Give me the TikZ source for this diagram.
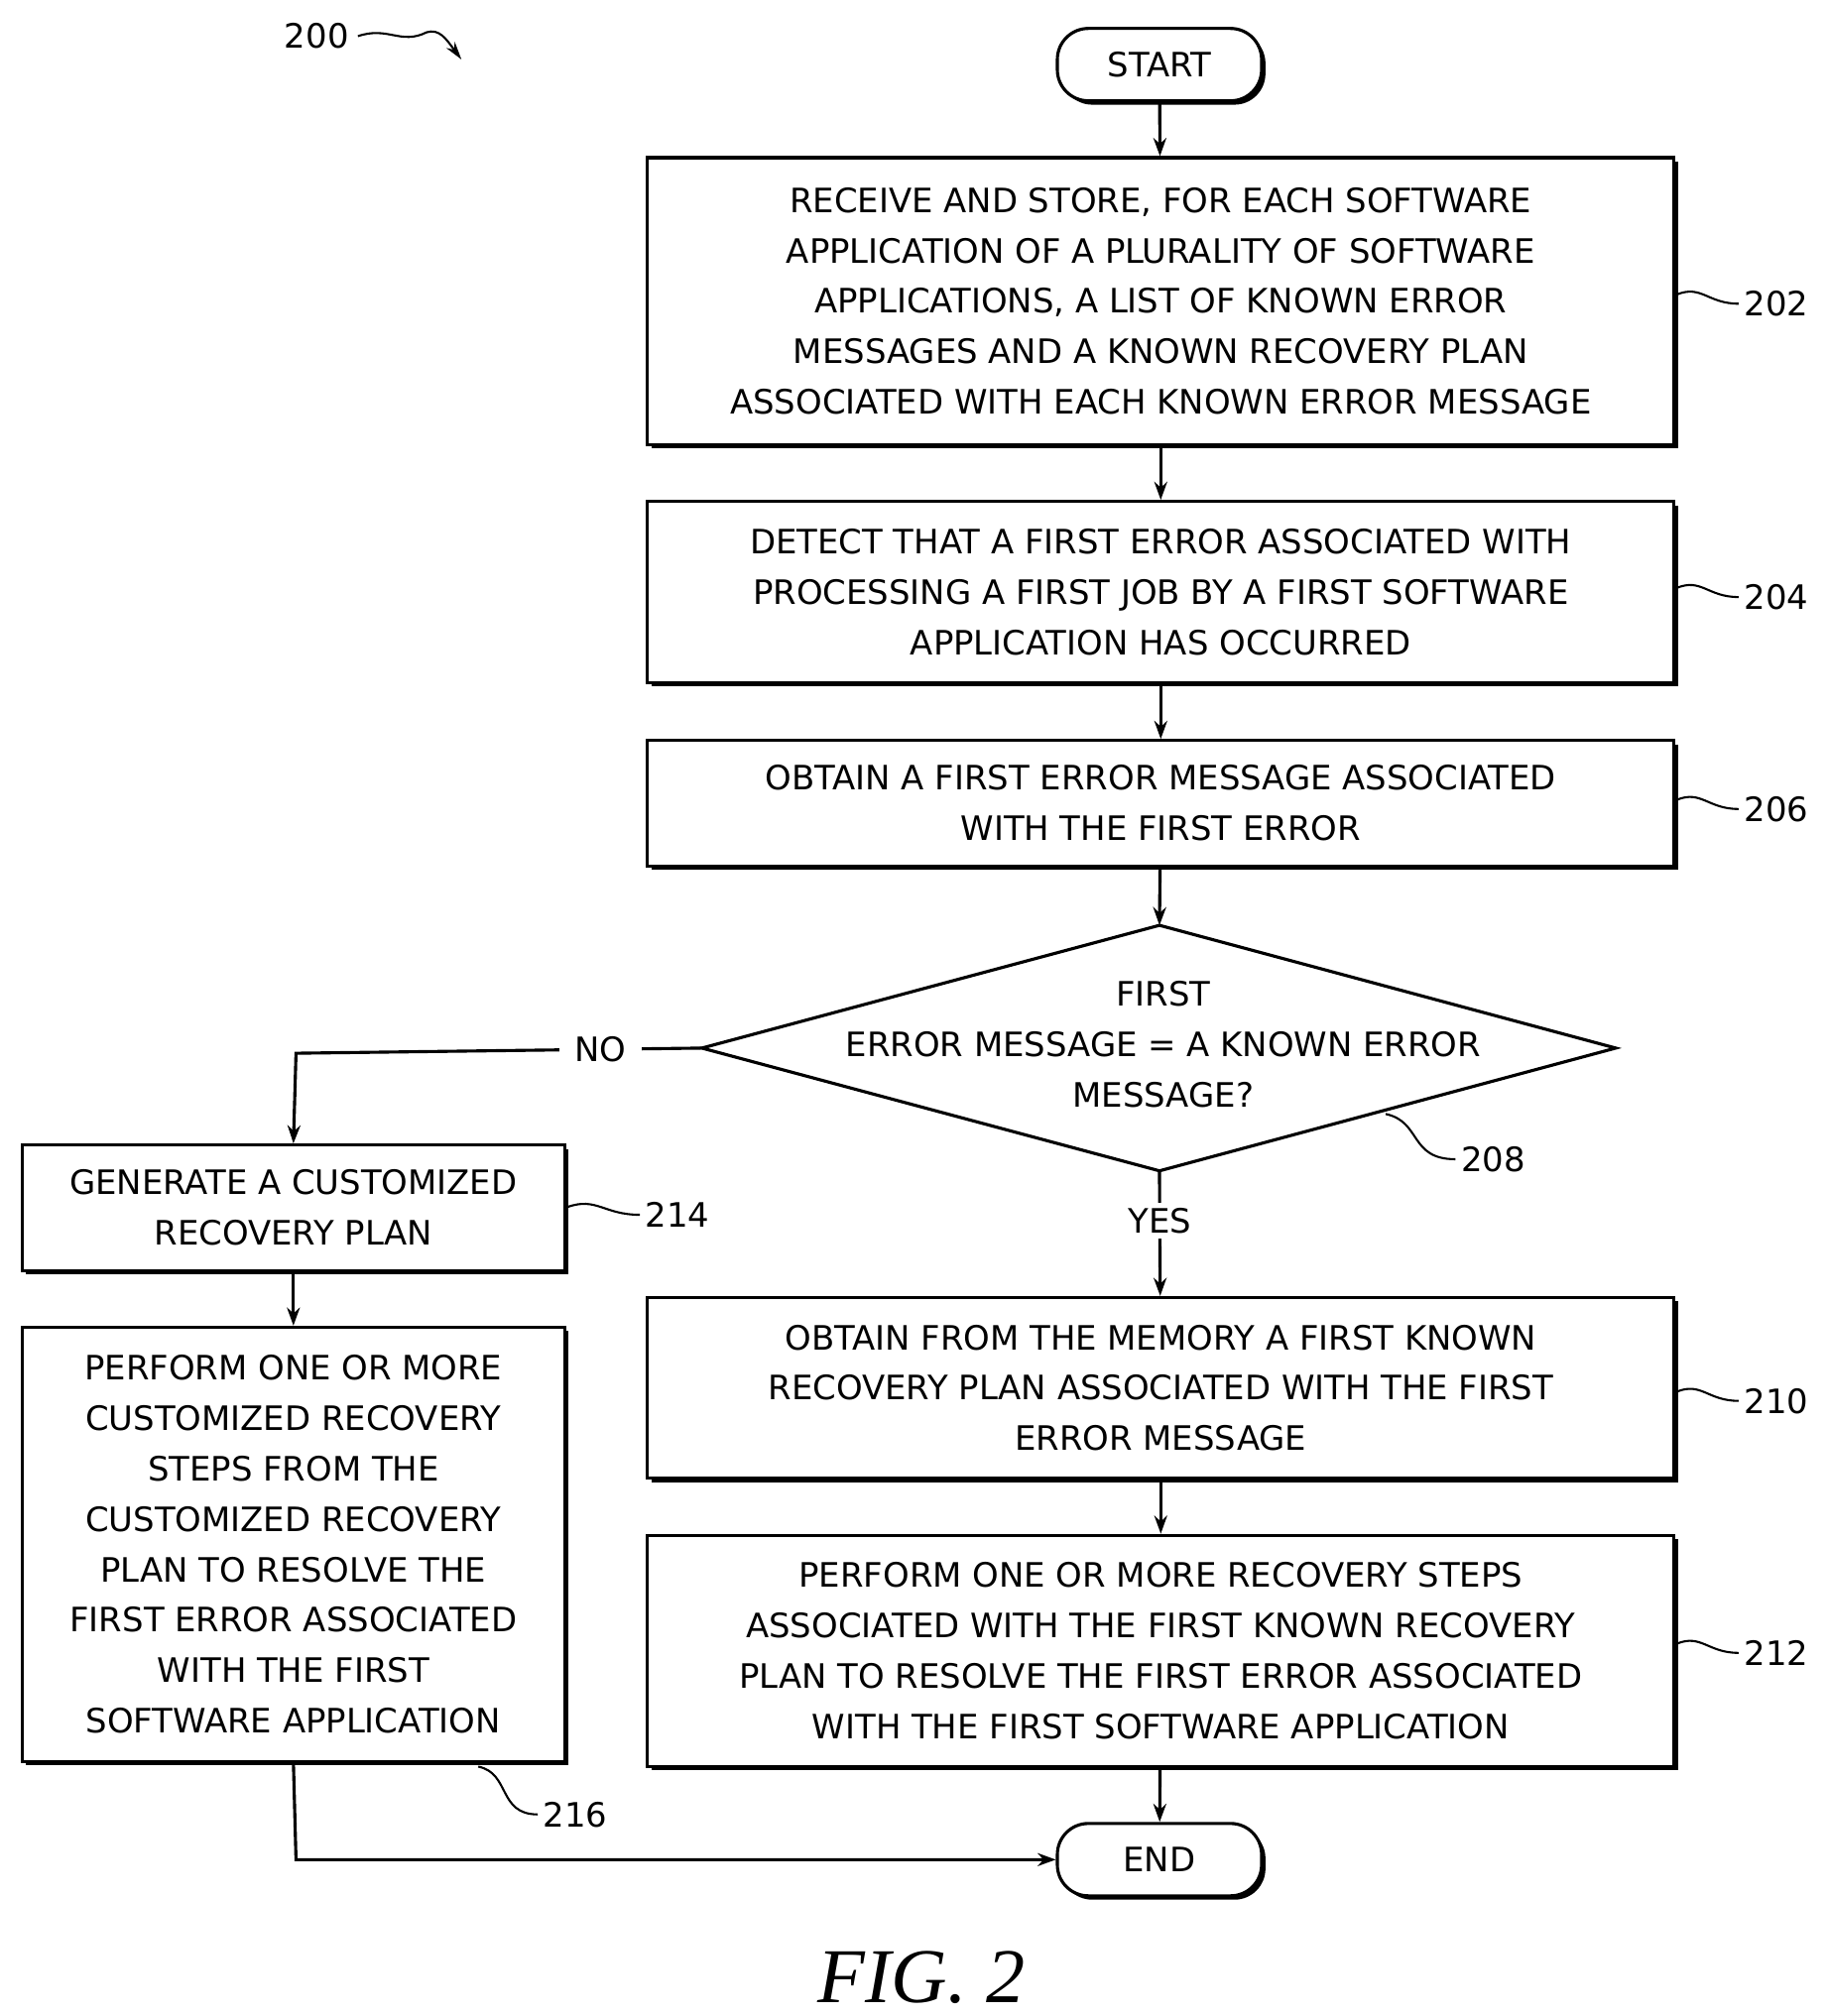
\documentclass[tikz,border=0pt]{standalone}
\usepackage{fontspec}
\setmainfont{DejaVu Sans}
\newfontfamily\figfont{Liberation Serif}
\usetikzlibrary{shapes.geometric,arrows.meta}
\begin{document}
\begin{tikzpicture}[x=0.5pt,y=-0.5pt,
 box/.style={draw,line width=1.2pt,fill=white,align=center,font=\fontsize{13}{19.5}\selectfont,inner sep=0pt},
 sh/.style={fill=black},
 arr/.style={line width=1.2pt,-{Stealth[length=7pt,width=5pt]}},
 lbl/.style={font=\fontsize{13}{15}\selectfont},
 sq/.style={line width=0.8pt}]
\useasboundingbox (0,0) rectangle (1414,1560);
\newcommand{\bx}[6]{%
 \fill (#2+3,#3+3) rectangle (#4+3,#5+3);
 \node[box,minimum width=(#4-#2)*0.5pt,minimum height=(#5-#3)*0.5pt] (#1) at ({(#2+#4)/2},{(#3+#5)/2}) {#6};}
\newcommand{\rb}[4]{%
 \fill[rounded corners=12pt] (818+3,#2+3) rectangle (976+3,#3+3);
 \node[box,rounded corners=12pt,minimum width=79pt,minimum height=(#3-#2)*0.5pt] (#1) at (897,{(#2+#3)/2}) {#4};}
\rb{start}{22}{78}{START}
\bx{b202}{501}{122}{1295}{344}{RECEIVE AND STORE, FOR EACH SOFTWARE\\APPLICATION OF A PLURALITY OF SOFTWARE\\APPLICATIONS, A LIST OF KNOWN ERROR\\MESSAGES AND A KNOWN RECOVERY PLAN\\ASSOCIATED WITH EACH KNOWN ERROR MESSAGE}
\bx{b204}{501}{388}{1295}{528}{DETECT THAT A FIRST ERROR ASSOCIATED WITH\\PROCESSING A FIRST JOB BY A FIRST SOFTWARE\\APPLICATION HAS OCCURRED}
\bx{b206}{501}{573}{1295}{670}{OBTAIN A FIRST ERROR MESSAGE ASSOCIATED\\WITH THE FIRST ERROR}
\draw[line width=1.2pt,fill=white] (897,716) -- (1250,811) -- (897,906) -- (543,811) -- cycle;
\coordinate (dt) at (897,716); \coordinate (db) at (897,906); \coordinate (dl) at (543,811);
\node[align=center,font=\fontsize{13}{19.5}\selectfont] (d208) at (900,808) {FIRST\\ERROR MESSAGE = A KNOWN ERROR\\MESSAGE?};
\bx{b210}{501}{1004}{1295}{1144}{OBTAIN FROM THE MEMORY A FIRST KNOWN\\RECOVERY PLAN ASSOCIATED WITH THE FIRST\\ERROR MESSAGE}
\bx{b212}{501}{1188}{1295}{1367}{PERFORM ONE OR MORE RECOVERY STEPS\\ASSOCIATED WITH THE FIRST KNOWN RECOVERY\\PLAN TO RESOLVE THE FIRST ERROR ASSOCIATED\\WITH THE FIRST SOFTWARE APPLICATION}
\rb{end}{1411}{1467}{END}
\bx{b214}{17}{886}{437}{983}{GENERATE A CUSTOMIZED\\RECOVERY PLAN}
\bx{b216}{17}{1027}{437}{1363}{PERFORM ONE OR MORE\\CUSTOMIZED RECOVERY\\STEPS FROM THE\\CUSTOMIZED RECOVERY\\PLAN TO RESOLVE THE\\FIRST ERROR ASSOCIATED\\WITH THE FIRST\\SOFTWARE APPLICATION}
\draw[arr] (start) -- (b202);
\draw[arr] (b202) -- (b204);
\draw[arr] (b204) -- (b206);
\draw[arr] (b206) -- (dt);
\draw[arr] (db) -- node[fill=white,lbl,inner sep=2pt,pos=0.4] (yes) {YES} (b210);
\draw[arr] (b210) -- (b212);
\draw[arr] (b212) -- (end);
\draw[arr] (dl) -- node[fill=white,lbl,inner sep=6pt,pos=0.25] (no) {NO} (229,815) -- (b214.north);
\draw[arr] (b214) -- (b216);
\draw[arr] (b216.south) -- (229,1439) -- (end.west);
% reference numerals
\newcommand{\rf}[5]{\draw[sq] (#1,#2) .. controls ({#1+(#3-#1)*0.4},{#2-8}) and ({#1+(#3-#1)*0.5},{#4}) .. (#3,#4);
 \node[lbl,anchor=west,inner sep=2pt] at (#3,#4) {#5};}
\rf{1297}{228}{1345}{235}{202}
\rf{1297}{455}{1345}{462}{204}
\rf{1297}{619}{1345}{626}{206}
\rf{1297}{1077}{1345}{1084}{210}
\rf{1297}{1272}{1345}{1279}{212}
\rf{439}{934}{495}{940}{214}
\node[lbl,anchor=west,inner sep=2pt] (n208) at (1126,897) {208};
\draw[sq] (1072,862) .. controls (1100,868) and (1090,897) .. (n208.west);
\node[lbl,anchor=west,inner sep=2pt] (n216) at (416,1404) {216};
\draw[sq] (370,1367) .. controls (395,1372) and (385,1404) .. (n216.west);
\node[lbl] (n200) at (245,28) {200};
\draw[sq,-{Stealth[length=7pt,width=4pt]}] (n200.east) .. controls (300,20) and (310,35) .. (330,25) .. controls (340,22) and (345,30) .. (357,46);
\node[font=\figfont\itshape\fontsize{30}{34}\selectfont] (fig) at (713,1530) {FIG. 2};
\end{tikzpicture}
\end{document}
